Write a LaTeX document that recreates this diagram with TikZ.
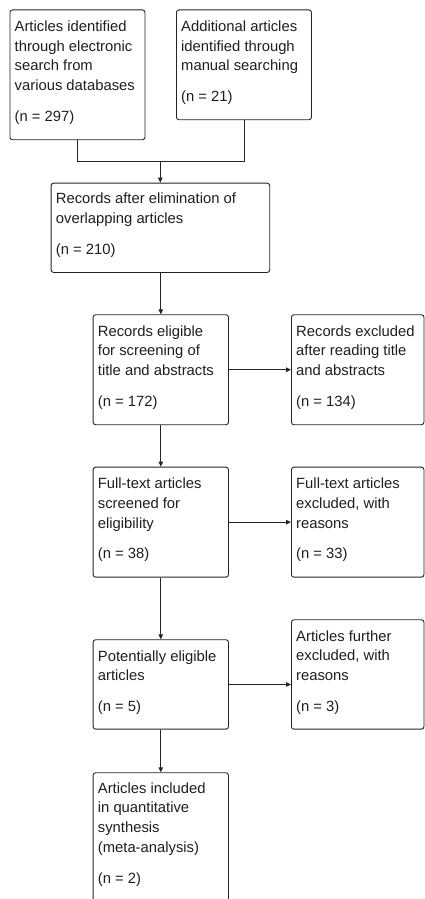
\documentclass[tikz,border=0pt]{standalone}
\usepackage{fontspec}
\setmainfont{Liberation Sans}
\usetikzlibrary{arrows.meta}
\definecolor{linec}{RGB}{35,35,35}
\definecolor{textc}{RGB}{30,30,30}
\begin{document}
\begin{tikzpicture}[x=1pt,y=-1pt,
  box/.style={draw=linec, line width=0.9pt, rounded corners=2.5pt, inner sep=0pt, anchor=north west},
  txt/.style={anchor=north west, inner sep=0pt, align=left, text=textc, font=\fontsize{14.8}{19.8}\selectfont},
  con/.style={draw=linec, line width=0.9pt},
  arr/.style={draw=linec, line width=0.9pt, -{Triangle[length=5pt,width=4.5pt]}}]
\useasboundingbox (0,0) rectangle (425,899);
\clip (0,0) rectangle (425,899);
% boxes
\node[box, minimum width=135pt, minimum height=129.8pt] (b1) at (9.5,9.5) {};
\node[box, minimum width=135pt, minimum height=109.8pt] (b2) at (176,9.5) {};
\node[box, minimum width=218.6pt, minimum height=89.3pt] (b3) at (50.7,182.7) {};
\node[box, minimum width=135.3pt, minimum height=110pt] (b4) at (92.7,314.3) {};
\node[box, minimum width=132.5pt, minimum height=110pt] (b5) at (291,314.3) {};
\node[box, minimum width=135.3pt, minimum height=110pt] (b6) at (92.7,466.7) {};
\node[box, minimum width=132.5pt, minimum height=110pt] (b7) at (291,466.7) {};
\node[box, minimum width=135.3pt, minimum height=89.4pt] (b8) at (92.7,639.3) {};
\node[box, minimum width=132.5pt, minimum height=109.4pt] (b9) at (291,619.3) {};
\node[box, minimum width=135.3pt, minimum height=160pt] (b10) at (92.7,772.3) {};
% texts
\node[txt] (t1) at ([xshift=5pt,yshift=-7.5pt]b1.north west) {\rule{0pt}{14pt}Articles identified\\through electronic\\search from\\various databases\\[11pt](n = 297)};
\node[txt] (t2) at ([xshift=5pt,yshift=-7.5pt]b2.north west) {\rule{0pt}{14pt}Additional articles\\identified through\\manual searching\\[11pt](n = 21)};
\node[txt] (t3) at ([xshift=5pt,yshift=-7pt]b3.north west) {\rule{0pt}{14pt}Records after elimination of\\overlapping articles\\[11pt](n = 210)};
\node[txt] (t4) at ([xshift=5pt,yshift=-7.5pt]b4.north west) {\rule{0pt}{14pt}Records eligible\\for screening of\\title and abstracts\\[11pt](n = 172)};
\node[txt] (t5) at ([xshift=5pt,yshift=-7.5pt]b5.north west) {\rule{0pt}{14pt}Records excluded\\after reading title\\and abstracts\\[11pt](n = 134)};
\node[txt] (t6) at ([xshift=5pt,yshift=-7.5pt]b6.north west) {\rule{0pt}{14pt}Full-text articles\\screened for\\eligibility\\[11pt](n = 38)};
\node[txt] (t7) at ([xshift=5pt,yshift=-7.5pt]b7.north west) {\rule{0pt}{14pt}Full-text articles\\excluded, with\\reasons\\[11pt](n = 33)};
\node[txt] (t8) at ([xshift=5pt,yshift=-7.5pt]b8.north west) {\rule{0pt}{14pt}Potentially eligible\\articles\\[11pt](n = 5)};
\node[txt] (t9) at ([xshift=5pt,yshift=-7.5pt]b9.north west) {\rule{0pt}{14pt}Articles further\\excluded, with\\reasons\\[11pt](n = 3)};
\node[txt] (t10) at ([xshift=5pt,yshift=-6.5pt]b10.north west) {\rule{0pt}{14pt}Articles included\\in quantitative\\synthesis\\(meta-analysis)\\[11pt](n = 2)};
% connectors
\coordinate (j) at (160.3,161.3);
\draw[con] (b1.south) |- (j);
\draw[con] (b2.south) |- (j);
\draw[arr] (j) -- (j |- b3.north);
\draw[arr] (b4.north |- b3.south) -- (b4.north);
\draw[arr] (b4.east) -- (b5.west);
\draw[arr] (b4.south) -- (b6.north);
\draw[arr] (b6.east) -- (b7.west);
\draw[arr] (b6.south) -- (b8.north);
\draw[arr] (b8.east) -- (b8.east -| b9.west);
\draw[arr] (b8.south) -- (b10.north);
\end{tikzpicture}
\end{document}
